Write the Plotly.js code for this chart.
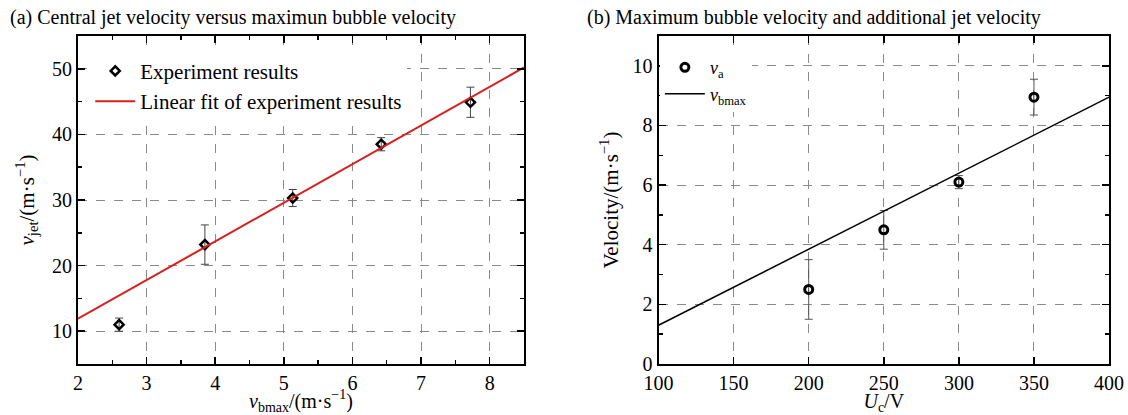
<!DOCTYPE html>
<html><head><meta charset="utf-8">
<script src="https://cdn.plot.ly/plotly-3.0.1.min.js"></script>
<style>html,body{margin:0;padding:0;background:#fff}#chart{width:1128px;height:415px}</style>
</head><body><div id="chart"></div>
<script>
// Panel (a): central jet velocity vs maximum bubble velocity
const bubbleVel = [2.6, 3.85, 5.13, 6.42, 7.72];
const jetVel = [11.0, 23.2, 30.3, 38.5, 44.9];
const jetErr = [1.0, 3.0, 1.3, 1.0, 2.3];
const fitX = [2, 8.5];
const fitY = [11.9, 50.2];
// Panel (b): maximum bubble velocity and additional jet velocity
const voltage = [200, 250, 300, 350];
const addJetVel = [2.5, 4.5, 6.1, 8.95];
const addJetErr = [1.0, 0.65, 0.22, 0.6];
const bmaxX = [100, 400];
const bmaxY = [1.3, 8.95];

const FONT = '"Liberation Serif", "Times New Roman", Times, serif';

const traces = [
  {x: bubbleVel, y: jetVel, type: 'scatter', mode: 'markers', name: 'Experiment results',
   xaxis: 'x', yaxis: 'y', legend: 'legend',
   marker: {symbol: 'diamond-open', size: 7, color: 'black', line: {width: 2.5, color: 'black'}},
   error_y: {type: 'data', array: jetErr, visible: true, color: '#444', thickness: 1, width: 4}},
  {x: fitX, y: fitY, type: 'scatter', mode: 'lines', name: 'Linear fit of experiment results',
   xaxis: 'x', yaxis: 'y', legend: 'legend',
   line: {color: '#d81e1e', width: 2}},
  {x: voltage, y: addJetVel, type: 'scatter', mode: 'markers', name: '<i>v</i><sub>a</sub>',
   xaxis: 'x2', yaxis: 'y2', legend: 'legend2',
   marker: {symbol: 'circle-open', size: 8, color: 'black', line: {width: 3, color: 'black'}},
   error_y: {type: 'data', array: addJetErr, visible: true, color: '#555', thickness: 1, width: 4}},
  {x: bmaxX, y: bmaxY, type: 'scatter', mode: 'lines', name: '<i>v</i><sub>bmax</sub>',
   xaxis: 'x2', yaxis: 'y2', legend: 'legend2',
   line: {color: 'black', width: 1.5}}
];

function ax(extra) {
  return Object.assign({
    showgrid: true, gridcolor: '#8a8a8a', griddash: 'dash', gridwidth: 1,
    showline: true, linecolor: 'black', linewidth: 2, mirror: 'ticks',
    ticks: 'inside', ticklen: 7, tickwidth: 1.5, tickcolor: 'black',
    zeroline: false, automargin: false,
    tickfont: {family: FONT, size: 20, color: 'black'}
  }, extra);
}

const layout = {
  width: 1128, height: 415,
  margin: {l: 0, r: 0, t: 36, b: 51},
  paper_bgcolor: 'white', plot_bgcolor: 'white',
  font: {family: FONT, color: 'black'},
  showlegend: true,
  xaxis: ax({domain: [0.0691, 0.4645], range: [2, 8.5], tick0: 2, dtick: 1, anchor: 'y',
    minor: {dtick: 0.5, ticks: 'inside', ticklen: 4, tickcolor: 'black', showgrid: false},
    title: {text: '<i>v</i><sub>bmax</sub>/(m·s<sup>−1</sup>)', font: {family: FONT, size: 20}, standoff: 5}}),
  yaxis: ax({domain: [0, 1], range: [5, 55], tick0: 0, dtick: 10, anchor: 'x',
    minor: {dtick: 5, ticks: 'inside', ticklen: 4, tickcolor: 'black', showgrid: false},
    title: {text: '<i>v</i><sub>jet</sub>/(m·s<sup>−1</sup>)', font: {family: FONT, size: 21}, standoff: 12}}),
  xaxis2: ax({domain: [0.5838, 0.9832], range: [100, 400], tick0: 100, dtick: 50, anchor: 'y2',
    title: {text: '<i>U</i><sub>c</sub>/V', font: {family: FONT, size: 20}, standoff: 5}}),
  yaxis2: ax({domain: [0, 1], range: [0, 11], tick0: 0, dtick: 2, anchor: 'x2',
    minor: {dtick: 1, ticks: 'inside', ticklen: 4, tickcolor: 'black', showgrid: false},
    title: {text: 'Velocity/(m·s<sup>−1</sup>)', font: {family: FONT, size: 21}, standoff: 8}}),
  legend: {x: 0.08, y: 0.955, xanchor: 'left', yanchor: 'top', bgcolor: 'white', borderwidth: 0,
    font: {family: FONT, size: 21, color: 'black'}, itemwidth: 40, tracegroupgap: 0},
  legend2: {x: 0.585, y: 0.96, xanchor: 'left', yanchor: 'top', bgcolor: 'white', borderwidth: 0,
    font: {family: FONT, size: 18, color: 'black'}, itemwidth: 40, tracegroupgap: 0},
  annotations: [
    {text: '(a) Central jet velocity versus maximun bubble velocity', xref: 'paper', yref: 'paper',
     x: 0.0071, y: 1.055, xanchor: 'left', yanchor: 'middle', showarrow: false,
     font: {family: FONT, size: 20, color: 'black'}},
    {text: '(b) Maximum bubble velocity and additional jet velocity', xref: 'paper', yref: 'paper',
     x: 0.5186, y: 1.055, xanchor: 'left', yanchor: 'middle', showarrow: false,
     font: {family: FONT, size: 20, color: 'black'}}
  ]
};

Plotly.newPlot('chart', traces, layout, {displayModeBar: false, staticPlot: true});
</script>
</body></html>
